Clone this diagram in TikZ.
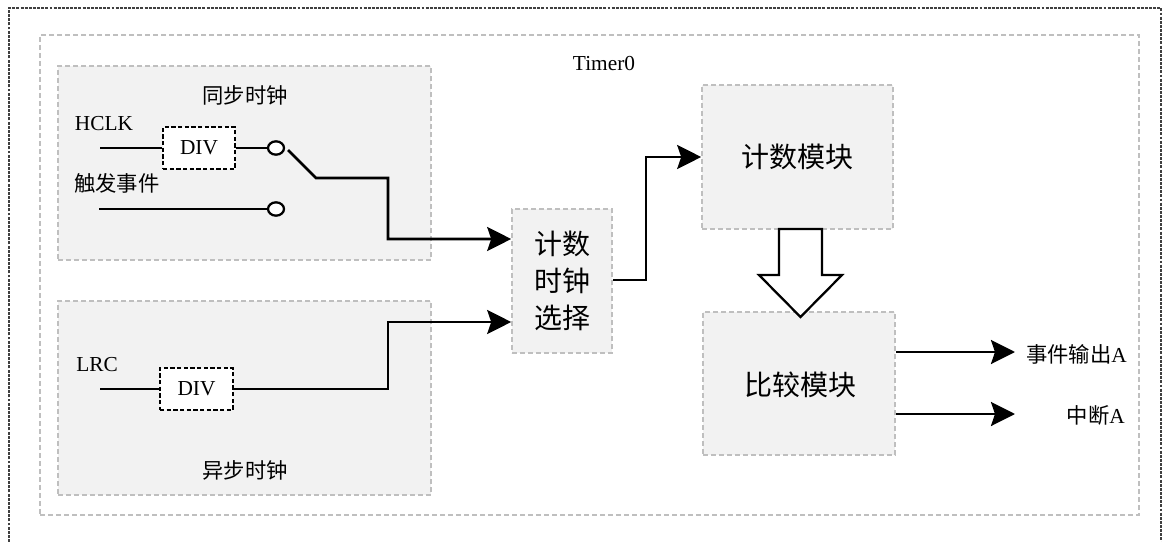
\documentclass[tikz,border=0pt]{standalone}
\usepackage{fontspec}
\setmainfont{Liberation Serif}
\newfontfamily\cjk{Noto Sans CJK SC}
\usetikzlibrary{fit,shapes.geometric,arrows.meta}
\definecolor{boxfill}{HTML}{F2F2F2}
\definecolor{boxline}{HTML}{BFBFBF}
\definecolor{outerline}{HTML}{404040}
\tikzset{
  outerframe/.style={draw=outerline, line width=0.8pt, dash pattern=on 2.2pt off 0.9pt},
  framebox/.style={draw=boxline, line width=1.2pt, dash pattern=on 3.6pt off 2.4pt, inner sep=0pt},
  graybox/.style={framebox, fill=boxfill},
  divbox/.style={draw=black, fill=white, line width=1.7pt, dash pattern=on 3.2pt off 1.8pt, inner sep=0pt},
  port/.style={ellipse, draw=black, fill=white, line width=1.7pt, minimum width=12pt, minimum height=10pt, inner sep=0pt},
  wire/.style={line width=2pt, line join=miter},
  arrow/.style={wire, -{Stealth[length=18pt,width=18pt,inset=3pt]}},
  lbl/.style={font=\fontsize{16}{19}\selectfont, inner sep=0pt},
  cjklbl/.style={font=\cjk\fontsize{16}{19}\selectfont, inner sep=0pt},
  bigcjk/.style={font=\cjk\fontsize{21}{27.75}\selectfont, inner sep=0pt, align=center},
  hollow/.style={draw=black, fill=white, line width=1.7pt, line join=miter},
}
\begin{document}
\begin{tikzpicture}[x=0.75pt, y=-0.75pt]
\useasboundingbox (0,0) rectangle (1165,542);
% outer frame (open at the bottom)
\draw[outerframe] (9,542) -- (9,8) -- (1161,8) -- (1161,542);

% containers
\node[framebox, fit={(40,35) (1139,515)}] (timer) {};
\node[lbl] (timerlbl) at (604,64) {Timer0};

\node[graybox, fit={(58,66) (431,260)}] (sync) {};
\node[graybox, fit={(58,301) (431,495)}] (async) {};
\node[graybox, fit={(512,209) (612,353)}] (sel) {};
\node[graybox, fit={(702,85) (893,229)}] (cnt) {};
\node[graybox, fit={(703,312) (895,455)}] (cmp) {};

% block texts
\node[bigcjk] (seltxt) at (562,281) {计数\\时钟\\选择};
\node[bigcjk] (cnttxt) at (797,157) {计数模块};
\node[bigcjk] (cmptxt) at (800,385) {比较模块};

% sync clock contents
\node[cjklbl] (synclbl) at (245,95) {同步时钟};
\node[lbl] (hclk) at (104,124) {HCLK};
\node[cjklbl] (trig) at (117,183) {触发事件};
\node[divbox, fit={(163,127) (235,169)}] (div1) {};
\node[lbl] (div1txt) at (div1.center) {DIV};
\node[port] (c1) at (276,148) {};
\node[port] (c2) at (276,209) {};
\coordinate (hin) at (100,148);
\coordinate (tin) at (99,209);
\coordinate (sw) at (288,150);
\draw[wire] (hin) -- (hin -| div1.west);
\draw[wire] (div1.east) -- (c1.west);
\draw[wire] (tin) -- (c2.west);
\draw[arrow] (sw) -- (316,178) -- (388,178) -- (388,239) -- (sel.west |- 0,239);

% async clock contents
\node[cjklbl] (asynclbl) at (245,470) {异步时钟};
\node[lbl] (lrc) at (97,365) {LRC};
\node[divbox, fit={(160,368) (233,410)}] (div2) {};
\node[lbl] (div2txt) at (div2.center) {DIV};
\coordinate (lin) at (100,389);
\draw[wire] (lin) -- (lin -| div2.west);
\draw[arrow] (div2.east) -- (388,389) -- (388,322) -- (sel.west |- 0,322);

% select -> counter
\draw[arrow] (sel.east |- 0,280) -- (646,280) |- (cnt.west);

% hollow arrow counter -> compare
\draw[hollow] (779,229) -- (822,229) -- (822,275) -- (842,275) -- (800.5,317) -- (759,275) -- (779,275) -- cycle;

% outputs
\coordinate (o1) at (1015,352);
\coordinate (o2) at (1015,414);
\draw[arrow] (cmp.east |- o1) -- (o1);
\draw[arrow] (cmp.east |- o2) -- (o2);
\node[cjklbl, anchor=east] (evout) at (1127,354) {事件输出\fontspec{Liberation Serif}A};
\node[cjklbl, anchor=east] (irq) at (1125,415) {中断\fontspec{Liberation Serif}A};
\end{tikzpicture}
\end{document}
